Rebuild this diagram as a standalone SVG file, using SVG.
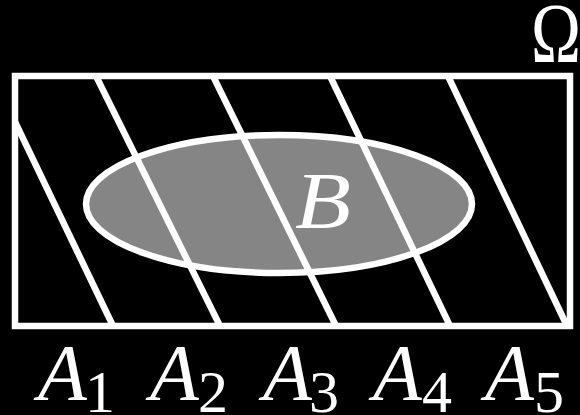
<svg xmlns="http://www.w3.org/2000/svg" width="580" height="415" viewBox="0 0 580 415">
<defs>
<clipPath id="c"><rect x="15" y="76" width="555" height="250"/></clipPath>
</defs>
<rect width="580" height="415" fill="#000"/>
<g id="B">
<ellipse cx="279" cy="204" rx="193" ry="69" fill="#858585" stroke="#fff" stroke-width="6.5"/>
<text x="295" y="228" fill="#fff" font-family="Liberation Serif" font-style="italic" font-size="80" textLength="56" lengthAdjust="spacingAndGlyphs">B</text>
</g>
<g id="connectors" clip-path="url(#c)" stroke="#fff" stroke-width="6.5" fill="none">
<line x1="-7" y1="76" x2="113" y2="326"/>
<line x1="96" y1="76" x2="220" y2="326"/>
<line x1="213" y1="76" x2="336" y2="326"/>
<line x1="330" y1="76" x2="450" y2="326"/>
<line x1="448" y1="76" x2="567" y2="326"/>
</g>
<g id="Omega">
<rect x="15" y="76" width="555" height="250" stroke="#fff" stroke-width="6.5" fill="none"/>
<text x="531" y="62" fill="#fff" font-family="Liberation Serif" font-size="84" textLength="50" lengthAdjust="spacingAndGlyphs">Ω</text>
</g>
<g id="labels" fill="#fff" font-family="Liberation Serif">
<g font-style="italic" font-size="80">
<text x="38" y="400">A</text>
<text x="150" y="400">A</text>
<text x="263" y="400">A</text>
<text x="373" y="400">A</text>
<text x="485" y="400">A</text>
</g>
<g font-size="60">
<text x="85" y="412">1</text>
<text x="198" y="412">2</text>
<text x="309" y="412">3</text>
<text x="422" y="412">4</text>
<text x="534" y="412">5</text>
</g>
</g>
</svg>
